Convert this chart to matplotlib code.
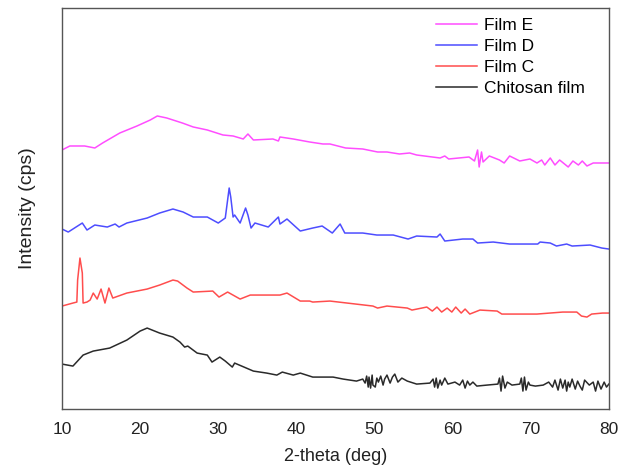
import matplotlib
matplotlib.use("Agg")
import matplotlib.pyplot as plt

plt.rcParams['font.family'] = ['Liberation Sans', 'DejaVu Sans']

# XRD patterns (2-theta in deg, intensity in arbitrary offset units)
film_e_x = [10.0, 11.0, 12.9, 14.2, 15.2, 17.4, 19.6, 21.3, 22.2, 23.4, 25.4, 26.8, 28.6, 30.6, 31.9,
            33.2, 33.8, 34.5, 37.0, 37.7, 37.9, 39.6, 41.7, 43.4, 44.3, 46.3, 48.5, 50.4, 51.6, 53.2,
            54.5, 55.4, 58.4, 59.0, 59.5, 62.1, 62.8, 63.2, 63.4, 63.7, 63.9, 64.7, 66.0, 66.6, 67.3,
            68.6, 69.9, 70.8, 71.4, 71.8, 72.5, 73.1, 73.7, 74.8, 75.4, 76.1, 76.6, 77.2, 78.0, 79.3, 80.0]
film_e_y = [259, 263, 263, 261, 266, 276, 283, 289, 293, 291, 286, 282, 279, 274, 273,
            270, 275, 269, 270, 268, 272, 270, 267, 265, 265, 261, 260, 257, 257, 255,
            256, 254, 251, 253, 250, 252, 248, 259, 242, 257, 247, 253, 249, 246, 253,
            248, 250, 246, 249, 244, 251, 244, 249, 242, 248, 244, 248, 243, 246, 246, 246]

film_d_x = [10.0, 10.8, 12.6, 13.2, 14.2, 15.8, 16.8, 17.3, 18.3, 20.9, 22.5, 24.2, 25.5, 26.8, 28.6,
            30.0, 30.9, 31.2, 31.4, 31.6, 31.9, 32.1, 32.8, 33.5, 33.8, 34.2, 34.7, 36.4, 37.7, 37.9,
            38.8, 40.5, 42.1, 43.3, 44.6, 45.6, 46.2, 48.5, 50.3, 52.4, 54.3, 55.4, 58.0, 58.4, 59.0,
            61.3, 62.6, 63.2, 65.2, 67.3, 70.9, 71.2, 72.5, 73.3, 74.6, 75.3, 77.6, 79.1, 80.0]
film_d_y = [180, 177, 186, 179, 184, 182, 185, 182, 186, 191, 196, 200, 197, 192, 192,
            186, 191, 209, 221, 212, 192, 194, 186, 201, 194, 181, 186, 182, 192, 185,
            190, 178, 181, 183, 176, 185, 176, 176, 174, 174, 170, 173, 172, 175, 168,
            170, 170, 166, 167, 165, 165, 167, 166, 163, 165, 163, 164, 161, 160]

film_c_x = [10.0, 11.4, 11.9, 12.0, 12.3, 12.6, 12.7, 13.2, 13.6, 14.0, 14.5, 15.0, 15.5, 16.0, 16.5,
            18.3, 20.9, 22.5, 24.2, 24.8, 26.0, 26.8, 29.3, 30.1, 31.2, 32.8, 34.1, 37.9, 38.8, 40.5,
            41.7, 42.1, 44.3, 46.5, 49.8, 50.4, 51.6, 54.2, 54.8, 56.7, 57.4, 58.0, 58.6, 59.3, 59.9,
            60.4, 61.1, 61.6, 62.2, 63.5, 65.7, 66.3, 68.2, 70.8, 74.1, 75.9, 76.5, 77.2, 77.8, 79.2, 80.0]
film_c_y = [103, 106, 107, 129, 151, 136, 106, 107, 109, 116, 110, 120, 106, 121, 111,
            116, 120, 124, 129, 128, 121, 117, 118, 112, 117, 110, 114, 114, 116, 108,
            108, 107, 108, 106, 103, 101, 103, 101, 99, 102, 98, 102, 97, 101, 97,
            102, 96, 100, 95, 99, 98, 95, 95, 95, 97, 97, 93, 92, 95, 96, 96]

chitosan_x = [10.0, 11.4, 12.7, 14.0, 16.1, 18.3, 20.0, 20.9, 22.5, 24.2, 25.1, 25.7, 26.1, 27.3, 28.6,
              29.2, 30.2, 30.9, 31.8, 32.1, 33.0, 34.5, 36.2, 37.5, 38.2, 39.6, 40.5, 42.1, 44.7, 46.0,
              47.7, 48.5, 48.8, 49.0, 49.2, 49.3, 49.5, 49.7, 49.8, 50.1, 50.3, 50.5, 50.8, 51.1, 51.3,
              51.6, 52.0, 52.3, 52.6, 53.0, 53.5, 54.2, 55.4, 57.1, 57.5, 57.7, 57.9, 58.1, 58.4, 58.6,
              59.0, 59.4, 60.3, 60.9, 61.3, 61.6, 61.9, 62.2, 62.6, 63.1, 64.4, 65.8, 66.0, 66.2, 66.4,
              66.7, 67.0, 67.6, 68.6, 68.8, 69.0, 69.2, 69.4, 69.7, 69.9, 70.6, 71.6, 72.3, 72.8, 73.1,
              73.5, 73.8, 74.1, 74.4, 74.6, 74.8, 75.0, 75.3, 75.7, 76.0, 76.3, 76.6, 76.9, 77.5, 78.0,
              78.3, 78.6, 79.0, 79.4, 79.7, 80.0]
chitosan_y = [45, 43, 54, 58, 61, 69, 78, 81, 76, 72, 67, 62, 63, 56, 54,
              47, 52, 48, 42, 46, 43, 38, 36, 34, 37, 34, 36, 32, 32, 30,
              28, 30, 26, 33, 22, 32, 21, 34, 24, 22, 31, 27, 33, 24, 30,
              34, 26, 32, 35, 27, 31, 28, 25, 26, 30, 22, 31, 21, 29, 24,
              31, 25, 27, 24, 29, 21, 28, 24, 27, 23, 24, 25, 31, 18, 33,
              21, 27, 24, 25, 31, 18, 32, 19, 27, 24, 23, 24, 27, 22, 29,
              19, 30, 21, 29, 18, 27, 22, 30, 20, 28, 23, 19, 29, 24, 27,
              18, 28, 20, 27, 22, 25]

fig, ax = plt.subplots(figsize=(6.2, 4.67), dpi=100)
fig.subplots_adjust(left=0.1, right=0.982, bottom=0.124, top=0.983)

ax.plot(film_e_x, film_e_y, color='#ff4dff', lw=1.1, label='Film E')
ax.plot(film_d_x, film_d_y, color='#4d4dff', lw=1.1, label='Film D')
ax.plot(film_c_x, film_c_y, color='#ff4d4d', lw=1.1, label='Film C')
ax.plot(chitosan_x, chitosan_y, color='#2a2a2a', lw=1.1, label='Chitosan film')

ax.set_xlim(10, 80)
ax.set_ylim(0, 401)
ax.set_xticks(range(10, 81, 10))
ax.set_yticks([])
ax.tick_params(axis='x', length=0, pad=9, labelsize=12.5, labelcolor='#222222')
for s in ax.spines.values():
    s.set_color('#555555')
    s.set_linewidth(1.0)

ax.set_xlabel('2-theta (deg)', fontsize=13, color='#222222', labelpad=8)
ax.set_ylabel('Intensity (cps)', fontsize=14, color='#222222', labelpad=19)

ax.legend(loc='upper right', bbox_to_anchor=(0.985, 1.015), frameon=False, fontsize=12.5,
          handlelength=2.4, handletextpad=0.4, labelspacing=0.35)

fig.savefig('out.png', dpi=100)
